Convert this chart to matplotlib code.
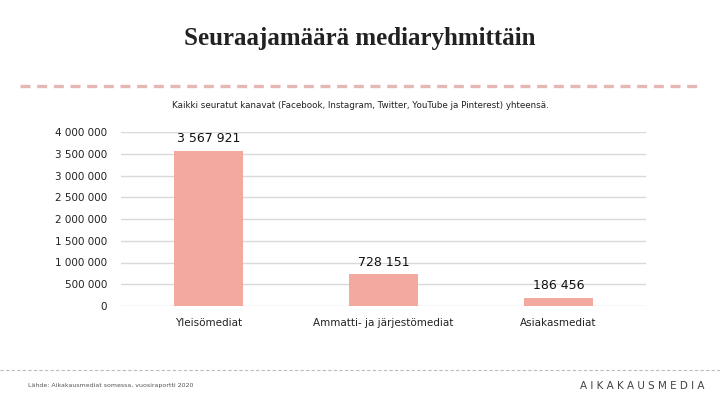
import matplotlib
matplotlib.use("Agg")
import matplotlib.pyplot as plt
from matplotlib.lines import Line2D

categories = ["Yleisömediat", "Ammatti- ja järjestömediat", "Asiakasmediat"]
values = [3567921, 728151, 186456]
yticks = [0, 500000, 1000000, 1500000, 2000000, 2500000, 3000000, 3500000, 4000000]

def fmt(v):
    return f"{v:,}".replace(",", " ")

fig = plt.figure(figsize=(7.2, 4.05), dpi=100)
ax = fig.add_axes([121/720, 1-306/405, 525/720, 174/405])
x = range(len(categories))
ax.bar(x, values, width=0.39, color="#F4A9A0", zorder=2)
ax.set_xlim(-0.5, 2.5)
ax.set_ylim(0, 4000000)
ax.set_yticks(yticks)
ax.set_yticklabels([fmt(v) for v in yticks], fontsize=7.5, color="#222222")
ax.set_xticks(list(x))
ax.set_xticklabels(categories, fontsize=7.5, color="#222222")
ax.tick_params(length=0, pad=10)
ax.tick_params(axis="x", pad=9)
ax.grid(axis="y", color="#d9d9d9", linewidth=1, zorder=0)
for s in ax.spines.values():
    s.set_visible(False)
for i, v in enumerate(values):
    ax.annotate(fmt(v), (i, v), xytext=(0, 4), textcoords="offset points",
                ha="center", va="bottom", fontsize=9, color="#111111")

fig.text(0.5, 1-38/405, "Seuraajamäärä mediaryhmittäin", ha="center", va="center",
         fontsize=18, fontweight="bold", family="Liberation Serif", color="#222222")
fig.add_artist(Line2D([20/720, 700/720], [1-86/405]*2, color="#e6b8b3", lw=2.4,
                      linestyle=(0, (3, 2)), transform=fig.transFigure))
fig.text(0.5, 1-106/405, "Kaikki seuratut kanavat (Facebook, Instagram, Twitter, YouTube ja Pinterest) yhteensä.",
         ha="center", va="center", fontsize=6.3, color="#222222")
fig.add_artist(Line2D([0, 1], [1-370/405]*2, color="#bbbbbb", lw=0.8,
                      linestyle=(0, (3, 2)), transform=fig.transFigure))
fig.text(28/720, 1-386/405, "Lähde: Aikakausmediat somessa, vuosiraportti 2020", ha="left", va="center",
         fontsize=4.5, color="#555555")
fig.text(705/720, 1-386/405, "A I K A K A U S M E D I A", ha="right", va="center",
         fontsize=7.5, color="#444444")
fig.savefig("out.png", dpi=100)
